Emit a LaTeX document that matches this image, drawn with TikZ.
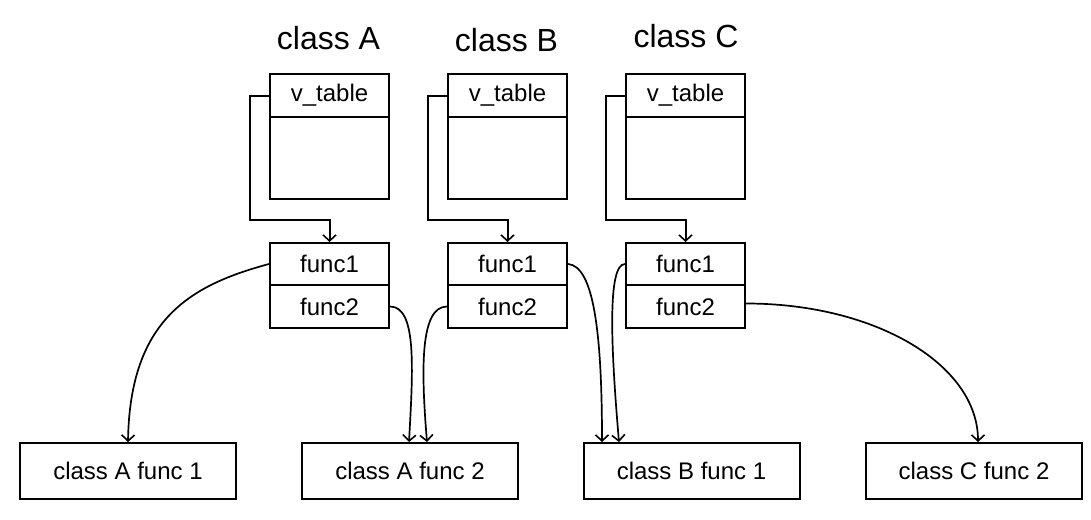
\documentclass[tikz,border=0pt]{standalone}
\usepackage{fontspec}
\setmainfont{Liberation Sans}
\usetikzlibrary{arrows.meta}
\begin{document}
\begin{tikzpicture}[x=1pt,y=-1pt,
  box/.style={draw, line width=2pt, rectangle, inner sep=0pt, minimum width=119pt, font=\fontsize{24}{28}\selectfont},
  target/.style={draw, line width=2pt, rectangle, inner sep=0pt, minimum width=216pt, minimum height=56pt, font=\fontsize{24}{28}\selectfont},
  title/.style={anchor=base, inner sep=0pt, font=\fontsize{32}{36}\selectfont},
  elbow/.style={line width=2pt, -{Straight Barb[length=6pt,width=13pt,line width=1.6pt]}},
  link/.style={line width=1.7pt, -{Straight Barb[length=6pt,width=13pt,line width=1.6pt]}}]
\useasboundingbox (0,0) rectangle (1091,519);
% titles
\node[title] (tA) at (328.5,50) {class A};
\node[title] (tB) at (506.5,52) {class B};
\node[title] (tC) at (686,48) {class C};
% tables
\foreach \n/\x in {A/329.5, B/507.5, C/685.5}{
  \node[box, minimum height=43pt] (v\n) at (\x,95.5) {v\_table};
  \node[box, minimum height=82pt] (o\n) at (\x,158) {};
  \node[box, minimum height=42pt] (f\n1) at (\x,264) {func1};
  \node[box, minimum height=43pt] (f\n2) at (\x,306.5) {func2};
}
% targets
\node[target] (b1) at (128,471) {class A func 1};
\node[target] (b2) at (410,471) {class A func 2};
\node[target] (b3) at (691.5,471) {class B func 1};
\node[target] (b4) at (974,471) {class C func 2};
% v_table pointers
\foreach \n in {A,B,C}{
  \draw[elbow] (v\n.west) -- ++(-19,0) |- ([yshift=22pt]f\n1.north) -- (f\n1.north);
}
% function links
\draw[link] (fA1.west) .. controls +(-78,21) and +(2,-123) .. (b1.north);
\draw[link] (fA2.east) .. controls +(27,0) and +(4,-73) .. ([xshift=-1pt]b2.north);
\draw[link] (fB2.west) .. controls +(-27,0) and +(-6,-73) .. ([xshift=17pt]b2.north);
\draw[link] (fB1.east) .. controls +(25,2) and +(0,-113) .. ([xshift=-89.5pt]b3.north);
\draw[link] (fC1.west) .. controls +(-18,0) and +(-8,-93) .. ([xshift=-72.5pt]b3.north);
\draw[link] ([yshift=3pt]fC2.east) .. controls +(130,0) and +(0,-77) .. ([xshift=4pt]b4.north);
\end{tikzpicture}
\end{document}
